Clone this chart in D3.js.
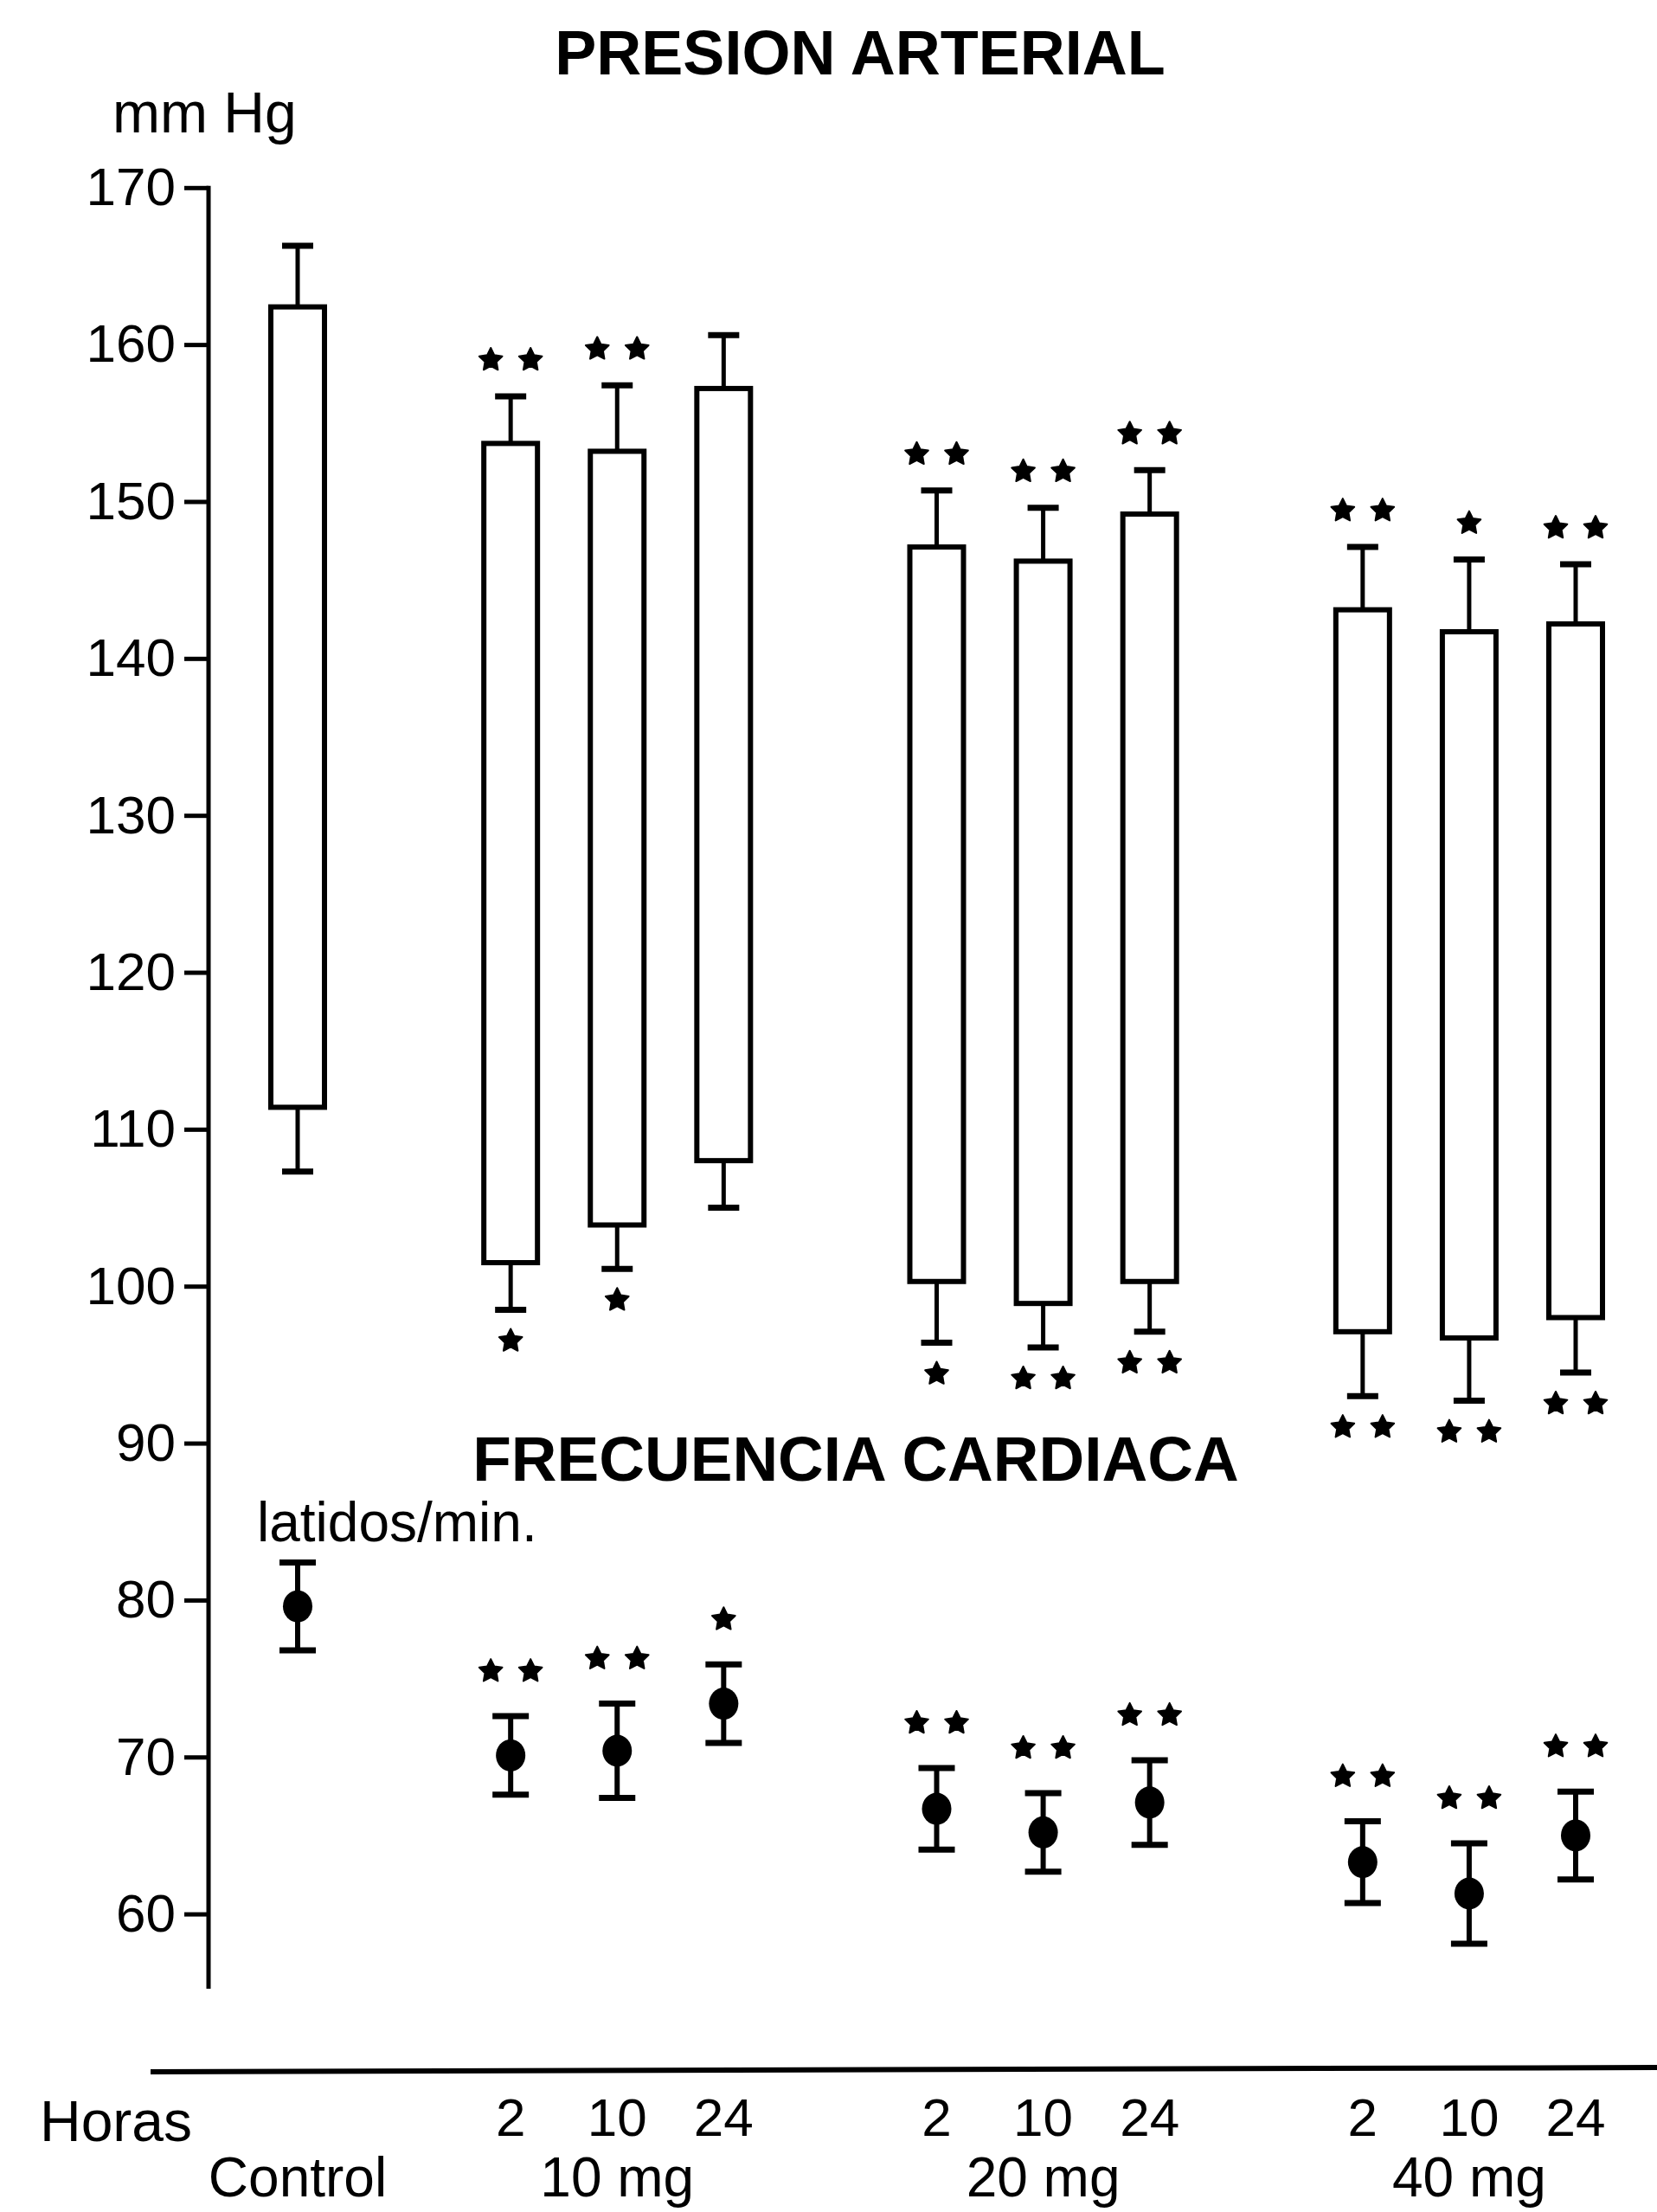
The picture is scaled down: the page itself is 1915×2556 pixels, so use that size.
<!DOCTYPE html>
<html><head><meta charset="utf-8">
<script src="https://cdn.jsdelivr.net/npm/d3@7"></script>
<style>html,body{margin:0;padding:0;background:#fff;} svg{display:block}</style>
</head><body>
<script>
// ---------- data ----------
const groups = ["Control", "10 mg", "20 mg", "40 mg"];
const categories = ["Control", "10 mg 2 h", "10 mg 10 h", "10 mg 24 h", "20 mg 2 h", "20 mg 10 h", "20 mg 24 h", "40 mg 2 h", "40 mg 10 h", "40 mg 24 h"];
const categoryGroup = [0, 1, 1, 1, 2, 2, 2, 3, 3, 3];
const hours = ["", "2", "10", "24", "2", "10", "24", "2", "10", "24"];
// Presión arterial (mm Hg): systolic = bar top, diastolic = bar bottom
const systolic    = [162.4, 153.7, 153.2, 157.2, 147.1, 146.2, 149.2, 143.1, 141.7, 142.2];
const systolicSE  = [3.9, 3.0, 4.2, 3.4, 3.6, 3.4, 2.8, 4.0, 4.6, 3.8];
const diastolic   = [111.4, 101.5, 103.9, 108.0, 100.3, 98.9, 100.3, 97.1, 96.7, 98.0];
const diastolicSE = [4.1, 3.0, 2.8, 3.0, 3.9, 2.8, 3.2, 4.1, 4.0, 3.5];
// Frecuencia cardiaca (latidos/min.)
const heartRate   = [79.6, 70.1, 70.4, 73.4, 66.7, 65.2, 67.1, 63.3, 61.3, 65.0];
const heartRateSE = [2.8, 2.5, 3.0, 2.5, 2.6, 2.5, 2.7, 2.6, 3.2, 2.8];
// significance marks (number of asterisks)
const starsSys   = [0, 2, 2, 0, 2, 2, 2, 2, 1, 2];
const starsDia   = [0, 1, 1, 0, 1, 2, 2, 2, 2, 2];
const starsHR    = [0, 2, 2, 1, 2, 2, 2, 2, 2, 2];
const yTicks = [60, 70, 80, 90, 100, 110, 120, 130, 140, 150, 160, 170];

// ---------- layout ----------
const W = 1915, H = 2556;
const FONT = "'Liberation Sans', Arial, Helvetica, sans-serif";
const svg = d3.select("body").append("svg").attr("width", W).attr("height", H)
  .style("font-family", FONT);
svg.append("rect").attr("width", W).attr("height", H).attr("fill", "#fff");

const slot = categories.map((c, i) => i + categoryGroup[i]);
const x = d3.scaleLinear().domain([0, 12]).range([344, 1821]);
const y = d3.scaleLinear().domain([60, 170]).range([2211.6, 216.8]);
const barW = 62, capBar = 36, capPt = 42;

// titles
svg.append("text").attr("x", 994).attr("y", 86).attr("text-anchor", "middle")
  .attr("font-weight", "bold").attr("font-size", 72).text("PRESION ARTERIAL");
svg.append("text").attr("x", 130).attr("y", 153).attr("font-size", 66).text("mm Hg");
svg.append("text").attr("x", 989).attr("y", 1711).attr("text-anchor", "middle")
  .attr("font-weight", "bold").attr("font-size", 73).text("FRECUENCIA CARDIACA");
svg.append("text").attr("x", 297).attr("y", 1781).attr("font-size", 64).text("latidos/min.");

// y axis
const axisX = 241;
const ax = svg.append("g").attr("transform", `translate(${axisX},0)`)
  .call(d3.axisLeft(y).tickValues(yTicks).tickSize(28).tickSizeOuter(0).tickPadding(10));
ax.select(".domain").remove();
ax.selectAll(".tick line").attr("stroke", "#000").attr("stroke-width", 5);
ax.selectAll(".tick text").attr("font-size", 62).attr("font-family", FONT).attr("fill", "#000");
svg.append("line").attr("x1", axisX).attr("x2", axisX).attr("y1", y(170) - 2).attr("y2", 2298)
  .attr("stroke", "#000").attr("stroke-width", 5);

// bars with error bars
const idx = d3.range(categories.length);
const bp = svg.append("g");
bp.selectAll(".eu").data(idx).join("line")
  .attr("x1", i => x(slot[i])).attr("x2", i => x(slot[i]))
  .attr("y1", i => y(systolic[i])).attr("y2", i => y(systolic[i] + systolicSE[i]))
  .attr("stroke", "#000").attr("stroke-width", 5);
bp.selectAll(".cu").data(idx).join("line")
  .attr("x1", i => x(slot[i]) - capBar / 2).attr("x2", i => x(slot[i]) + capBar / 2)
  .attr("y1", i => y(systolic[i] + systolicSE[i])).attr("y2", i => y(systolic[i] + systolicSE[i]))
  .attr("stroke", "#000").attr("stroke-width", 7);
bp.selectAll(".el").data(idx).join("line")
  .attr("x1", i => x(slot[i])).attr("x2", i => x(slot[i]))
  .attr("y1", i => y(diastolic[i])).attr("y2", i => y(diastolic[i] - diastolicSE[i]))
  .attr("stroke", "#000").attr("stroke-width", 5);
bp.selectAll(".cl").data(idx).join("line")
  .attr("x1", i => x(slot[i]) - capBar / 2).attr("x2", i => x(slot[i]) + capBar / 2)
  .attr("y1", i => y(diastolic[i] - diastolicSE[i])).attr("y2", i => y(diastolic[i] - diastolicSE[i]))
  .attr("stroke", "#000").attr("stroke-width", 7);
bp.selectAll("rect").data(idx).join("rect")
  .attr("x", i => x(slot[i]) - barW / 2).attr("width", barW)
  .attr("y", i => y(systolic[i])).attr("height", i => y(diastolic[i]) - y(systolic[i]))
  .attr("fill", "#fff").attr("stroke", "#000").attr("stroke-width", 6);

// heart rate points
const hr = svg.append("g");
hr.selectAll(".e").data(idx).join("line")
  .attr("x1", i => x(slot[i])).attr("x2", i => x(slot[i]))
  .attr("y1", i => y(heartRate[i] + heartRateSE[i])).attr("y2", i => y(heartRate[i] - heartRateSE[i]))
  .attr("stroke", "#000").attr("stroke-width", 6);
[1, -1].forEach(s => {
  hr.selectAll(".c" + (s > 0 ? "u" : "d")).data(idx).join("line")
    .attr("x1", i => x(slot[i]) - capPt / 2).attr("x2", i => x(slot[i]) + capPt / 2)
    .attr("y1", i => y(heartRate[i] + s * heartRateSE[i])).attr("y2", i => y(heartRate[i] + s * heartRateSE[i]))
    .attr("stroke", "#000").attr("stroke-width", 7);
});
hr.selectAll("ellipse").data(idx).join("ellipse")
  .attr("cx", i => x(slot[i])).attr("cy", i => y(heartRate[i]))
  .attr("rx", 17).attr("ry", 18.5).attr("fill", "#000");

// asterisks (fat five-pointed stars)
const fatStar = {
  draw(ctx, size) {
    const R = Math.sqrt(size), r = R * 0.5;
    for (let k = 0; k < 10; k++) {
      const a = -Math.PI / 2 + k * Math.PI / 5, rr = k % 2 ? r : R;
      const px = rr * Math.cos(a), py = rr * Math.sin(a);
      k ? ctx.lineTo(px, py) : ctx.moveTo(px, py);
    }
    ctx.closePath();
  }
};
const star = d3.symbol().type(fatStar).size(196)();
function drawStars(counts, yFn) {
  idx.forEach(i => {
    const n = counts[i];
    if (!n) return;
    const offs = n === 1 ? [0] : [-23, 23];
    offs.forEach(o => {
      svg.append("path").attr("d", star)
        .attr("transform", `translate(${x(slot[i]) + o},${yFn(i)})`)
        .attr("fill", "#000").attr("stroke", "#000").attr("stroke-width", 2).attr("stroke-linejoin", "round");
    });
  });
}
drawStars(starsSys, i => y(systolic[i] + systolicSE[i]) - 42);
drawStars(starsDia, i => y(diastolic[i] - diastolicSE[i]) + 36);
drawStars(starsHR, i => y(heartRate[i] + heartRateSE[i]) - 52);

// bottom rule and labels
svg.append("line").attr("x1", 174).attr("x2", W).attr("y1", 2394).attr("y2", 2389)
  .attr("stroke", "#000").attr("stroke-width", 6);
svg.append("text").attr("x", 46).attr("y", 2474).attr("font-size", 66).text("Horas");
svg.selectAll(".hr-lab").data(idx.filter(i => hours[i])).join("text")
  .attr("x", i => x(slot[i])).attr("y", 2468).attr("text-anchor", "middle")
  .attr("font-size", 62).text(i => hours[i]);
svg.selectAll(".grp-lab").data(groups).join("text")
  .attr("x", (g, gi) => {
    const members = idx.filter(i => categoryGroup[i] === gi);
    return x(d3.mean(members, i => slot[i]));
  })
  .attr("y", 2538).attr("text-anchor", "middle").attr("font-size", 64).text(g => g);
</script>
</body></html>
